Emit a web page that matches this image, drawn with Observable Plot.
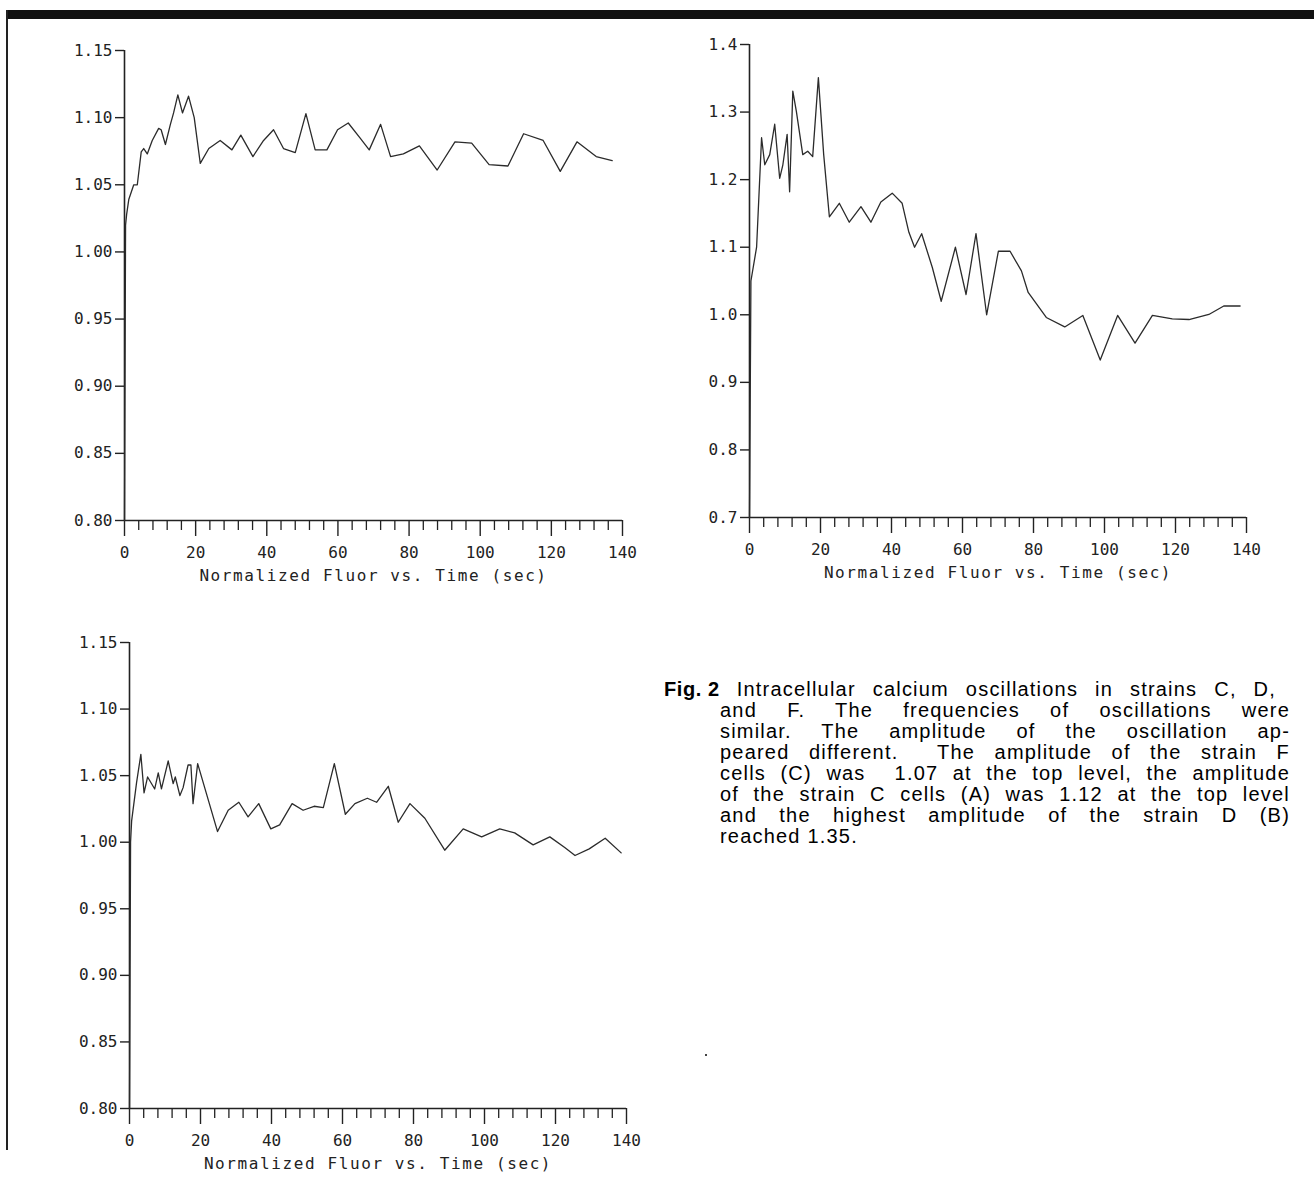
<!DOCTYPE html>
<html><head><meta charset="utf-8">
<script src="https://cdn.jsdelivr.net/npm/d3@7"></script>
<script src="https://cdn.jsdelivr.net/npm/@observablehq/plot@0.6"></script>
<style>
html,body{margin:0;padding:0;background:#fff;}
body{width:1314px;height:1196px;position:relative;overflow:hidden;}
.panel{position:absolute;}
#topbar{position:absolute;left:7px;top:10px;width:1307px;height:9px;background:#111;}
#leftbar{position:absolute;left:6px;top:10px;width:2px;height:1140px;background:#222;}
#dot{position:absolute;left:705px;top:1054px;width:2px;height:2px;background:#444;}
#caption{position:absolute;left:664px;top:679px;width:626px;font-family:"Liberation Sans",Arial,sans-serif;font-size:20px;letter-spacing:1.2px;line-height:21px;color:#000;}
.ln{text-align:justify;text-align-last:justify;padding-left:56px;white-space:nowrap;}
.ln.first{padding-left:0;padding-right:14px;}
.ln.last{text-align-last:left;}
.fig{display:inline-block;font-weight:bold;letter-spacing:0.6px;}
</style></head><body>
<div id="topbar"></div>
<div id="leftbar"></div>
<div id="dot"></div>
<div id="pA" class="panel"></div>
<div id="pB" class="panel"></div>
<div id="pC" class="panel"></div>
<div id="caption">
<div class="ln first"><span class="fig">Fig. 2</span> Intracellular calcium oscillations in strains C, D,</div>
<div class="ln">and F. The frequencies of oscillations were</div>
<div class="ln">similar. The amplitude of the oscillation ap-</div>
<div class="ln">peared different.&nbsp; The amplitude of the strain F</div>
<div class="ln">cells (C) was&nbsp; 1.07 at the top level, the amplitude</div>
<div class="ln">of the strain C cells (A) was 1.12 at the top level</div>
<div class="ln">and the highest amplitude of the strain D (B)</div>
<div class="ln last">reached 1.35.</div>
</div>
<script>
// ---- Data ----
const xTitle = "Normalized Fluor vs. Time (sec)";
const xMajorTicks = [0, 20, 40, 60, 80, 100, 120, 140];

const timeA = [0, 0.3, 0.6, 1.2, 2.6, 3.6, 4.7, 5.4, 6.4, 7.8, 9.6, 10.3, 11.5, 12.9, 13.8, 15.0, 16.3, 18.0, 19.6, 21.3, 23.7, 26.9, 30.2, 32.7, 36.1, 39.1, 41.9, 44.7, 48.0, 51.0, 53.6, 56.9, 59.9, 62.9, 66.2, 68.8, 72.0, 74.8, 78.4, 82.9, 87.9, 92.9, 97.6, 102.5, 107.8, 112.2, 117.7, 122.5, 127.2, 132.6, 137.1];
const valueA = [0.80, 1.020, 1.028, 1.039, 1.050, 1.050, 1.0745, 1.077, 1.073, 1.083, 1.092, 1.091, 1.080, 1.095, 1.1035, 1.117, 1.1035, 1.116, 1.100, 1.066, 1.077, 1.083, 1.076, 1.087, 1.071, 1.083, 1.091, 1.077, 1.074, 1.103, 1.076, 1.076, 1.091, 1.096, 1.085, 1.076, 1.095, 1.071, 1.073, 1.079, 1.061, 1.082, 1.081, 1.065, 1.064, 1.088, 1.083, 1.060, 1.082, 1.071, 1.068];
const yTicksA = [0.80, 0.85, 0.90, 0.95, 1.00, 1.05, 1.10, 1.15];

const timeB = [0, 0.4, 2.0, 3.4, 4.3, 5.7, 7.1, 8.5, 9.4, 10.6, 11.3, 12.2, 13.2, 15.0, 16.4, 17.8, 19.4, 20.9, 22.5, 25.3, 28.1, 31.4, 34.2, 37.0, 40.2, 43.0, 44.9, 46.5, 48.5, 51.5, 54.0, 58.0, 61.0, 63.8, 66.8, 70.1, 73.4, 76.6, 78.5, 83.6, 88.8, 93.9, 98.8, 103.7, 108.6, 113.5, 119.1, 123.8, 129.4, 133.6, 138.2];
const valueB = [0.70, 1.05, 1.10, 1.262, 1.222, 1.237, 1.282, 1.202, 1.222, 1.267, 1.182, 1.331, 1.301, 1.237, 1.242, 1.234, 1.351, 1.237, 1.145, 1.165, 1.137, 1.160, 1.137, 1.167, 1.180, 1.165, 1.122, 1.10, 1.12, 1.07, 1.02, 1.10, 1.03, 1.12, 1.00, 1.094, 1.094, 1.065, 1.033, 0.996, 0.982, 0.999, 0.933, 0.999, 0.958, 0.999, 0.994, 0.993, 1.0005, 1.013, 1.013];
const yTicksB = [0.7, 0.8, 0.9, 1.0, 1.1, 1.2, 1.3, 1.4];

const timeC = [0, 0.3, 0.6, 2.0, 3.2, 4.1, 5.1, 7.1, 8.1, 9.0, 10.9, 12.3, 12.9, 14.2, 15.1, 16.5, 17.3, 17.9, 19.2, 24.8, 27.8, 30.8, 33.4, 36.4, 39.8, 42.3, 45.8, 48.9, 52.0, 54.6, 57.7, 60.8, 63.5, 67.0, 69.6, 72.9, 75.7, 79.0, 83.2, 88.8, 94.0, 99.2, 104.3, 108.5, 113.7, 118.4, 122.6, 125.5, 129.5, 134.0, 138.5];
const valueC = [0.80, 1.00, 1.016, 1.045, 1.066, 1.037, 1.049, 1.040, 1.052, 1.040, 1.061, 1.044, 1.049, 1.035, 1.041, 1.058, 1.058, 1.029, 1.059, 1.008, 1.024, 1.030, 1.019, 1.029, 1.010, 1.013, 1.029, 1.024, 1.027, 1.026, 1.059, 1.021, 1.029, 1.033, 1.030, 1.042, 1.015, 1.029, 1.018, 0.994, 1.010, 1.004, 1.010, 1.007, 0.998, 1.004, 0.996, 0.990, 0.995, 1.003, 0.992];
const yTicksC = [0.80, 0.85, 0.90, 0.95, 1.00, 1.05, 1.10, 1.15];

// ---- Drawing ----
const xMinorTicks = d3.range(4, 140, 4).filter(d => d % 20 !== 0);

function makePanel(el, times, values, yTicks, yFmt, left, top, plotW, plotH) {
  const data = times.map((t, i) => ({t, v: values[i]}));
  const yMin = yTicks[0], yMax = yTicks[yTicks.length - 1];
  const mL = 110, mR = 50, mT = 20, mB = 80;
  const chart = Plot.plot({
    width: mL + plotW + mR,
    height: mT + plotH + mB,
    marginLeft: mL, marginRight: mR, marginTop: mT, marginBottom: mB,
    x: {domain: [0, 140]},
    y: {domain: [yMin, yMax]},
    style: {fontFamily: "'DejaVu Sans Mono', monospace", fontSize: "16px", color: "#222", background: "transparent"},
    marks: [
      Plot.axisY({ticks: yTicks, tickSize: 9, tickPadding: 3, tickFormat: d3.format(yFmt), strokeWidth: 1.4, label: null}),
      Plot.axisX({ticks: xMinorTicks, tickSize: 10, tickFormat: () => "", strokeWidth: 1.3, label: null}),
      Plot.axisX({ticks: xMajorTicks, tickSize: 16, tickPadding: 10, tickFormat: d => String(d), strokeWidth: 1.4, label: null}),
      Plot.ruleX([{x: 0, y1: yMin, y2: yMax}], {x: "x", y1: "y1", y2: "y2", strokeWidth: 1.6, stroke: "#222"}),
      Plot.ruleY([{y: yMin, x1: 0, x2: 140}], {y: "y", x1: "x1", x2: "x2", strokeWidth: 1.6, stroke: "#222"}),
      Plot.line(data, {x: "t", y: "v", stroke: "#2b2b2b", strokeWidth: 1.3}),
      Plot.text([xTitle], {frameAnchor: "bottom", dy: 60, fontSize: 16, fill: "#222"})
    ]
  });
  d3.select(chart).selectAll("text").filter(function() { return this.textContent.startsWith("Normalized"); })
    .style("letter-spacing", "1.6px");
  const host = document.getElementById(el);
  host.style.left = (left - mL) + "px";
  host.style.top = (top - mT) + "px";
  host.appendChild(chart);
}

// left/top = pixel position of plot origin corner (x=0 / y max)
makePanel("pA", timeA, valueA, yTicksA, ".2f", 124, 50, 498, 470);
makePanel("pB", timeB, valueB, yTicksB, ".1f", 749, 44, 497, 473);
makePanel("pC", timeC, valueC, yTicksC, ".2f", 129, 642, 497, 466);
</script>
</body></html>
